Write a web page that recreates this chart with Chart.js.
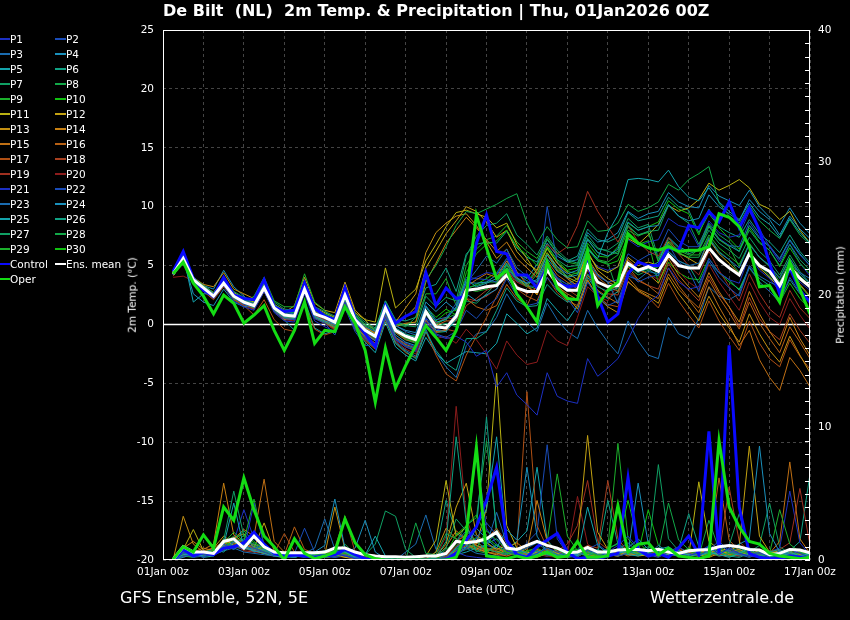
<!DOCTYPE html>
<html lang="en">
<head>
<meta charset="UTF-8" />
<title>De Bilt (NL) 2m Temp. &amp; Precipitation</title>
<script src="https://cdn.jsdelivr.net/npm/chart.js@4.4.0/dist/chart.umd.min.js"></script>
<style>
body { margin: 0; background: #000; color: #fff; font-family: "DejaVu Sans", sans-serif; }
#wrap { position: relative; width: 850px; height: 620px; overflow: hidden; }
#chart { position: absolute; left: 0; top: 0; }
.txt { position: absolute; white-space: pre; line-height: 1; }
#title { left: 163px; top: 3px; font-size: 16px; font-weight: bold; }
.rot { transform: translate(-50%, -50%) rotate(-90deg); font-size: 10.5px; }
.leg { position: absolute; font-size: 10.5px; line-height: 1; white-space: pre; }
.leg i { position: absolute; top: 50%; height: 2px; margin-top: -1px; }
.foot { font-size: 16px; top: 590px; }
</style>
</head>
<body>
<div id="wrap">
  <canvas id="chart" width="850" height="620"></canvas>
  <div id="title" class="txt">De Bilt  (NL)  2m Temp. &amp; Precipitation | Thu, 01Jan2026 00Z</div>
  <div class="txt rot" style="left:132px; top:295px;">2m Temp. (°C)</div>
  <div class="txt rot" style="left:840px; top:295px;">Precipitation (mm)</div>
  <div class="txt" style="left:486px; top:584px; font-size:10.5px; transform:translateX(-50%);">Date (UTC)</div>
  <div class="txt foot" style="left:120px;">GFS Ensemble, 52N, 5E</div>
  <div class="txt foot" style="left:650px;">Wetterzentrale.de</div>
  <div id="legend"></div>
</div>

<script>
// lead time step (hours) between points, first point at +6h
const STEP = 6;
const X_TICK_LABELS = ['01Jan 00z','03Jan 00z','05Jan 00z','07Jan 00z','09Jan 00z','11Jan 00z','13Jan 00z','15Jan 00z','17Jan 00z'];

// 2m temperature (°C), one value per 6 h
const TEMP_MEAN = [4.3,5.6,3.8,3.1, 2.4,3.5,2.4,1.9, 1.6,3.1,1.4,0.8, 0.7,3.0,0.9,0.6, 0.2,2.5,0.4,-0.5, -1.0,1.4,-0.5,-1.0, -1.3,1.1,-0.2,-0.3, 0.7,2.9,3.0,3.2, 3.3,4.2,3.1,2.8, 2.8,4.6,3.5,2.9, 2.9,5.0,3.6,3.2, 3.3,5.2,4.6,4.9, 4.5,5.9,5.0,4.8, 4.8,6.5,5.5,4.8, 4.2,6.0,5.0,4.5, 3.3,4.9,3.9,3.2];
const TEMP_CONTROL = [4.5,6.2,3.9,2.9, 2.4,4.0,2.5,2.2, 2.1,3.8,1.5,1.1, 1.2,3.5,1.4,0.7, 0.4,3.1,0.5,-0.8, -1.9,1.6,0.1,0.7, 1.1,4.4,1.6,3.1, 2.2,2.4,6.9,9.3, 6.2,6.0,4.2,4.2, 3.1,4.8,3.5,3.2, 3.3,5.2,2.4,0.2, 0.9,4.3,5.3,5.0, 5.0,6.5,6.3,8.4, 8.2,9.6,8.7,10.4, 8.2,9.9,8.0,5.2, 2.6,4.8,2.9,1.9];
const TEMP_OPER = [4.3,5.3,3.5,2.4, 0.9,2.5,1.8,0.1, 0.8,1.6,-0.5,-2.2, -0.5,1.9,-1.6,-0.5, -0.6,1.5,0.1,-2.2, -6.6,-2.0,-5.4,-3.5, -1.8,-0.1,-1.1,-2.2, -0.5,2.4,9.3,6.5, 3.9,4.6,2.6,1.5, 0.2,5.3,3.1,2.2, 2.1,6.2,1.6,2.9, 3.6,7.7,6.9,6.5, 6.3,6.6,6.2,6.3, 6.3,6.6,9.4,9.1, 8.3,6.6,3.2,3.3, 1.9,5.3,3.0,0.9];

// perturbed members P1..P30
const TEMP_PERT = [
  [4.2,5.8,3.6,2.9, 2.2,3.3,2.0,1.5, 1.2,2.8,1.0,0.3, 0.2,2.6,0.3,-0.2, -0.6,1.9,-0.4,-1.2, -1.8,0.6,-1.3,-1.9, -2.3,0.2,-0.9,-1.2, -1.0,-1.5,-2.7,-2.2, -5.3,-4.1,-6.0,-6.8, -7.7,-4.1,-6.1,-6.5, -6.7,-2.9,-4.4,-3.7, -2.9,-1.3,0.5,1.8, 2.5,4.8,3.6,3.0, 3.2,5.6,4.4,3.8, 3.5,5.9,4.6,3.9, 2.8,4.7,3.6,2.9],
  [4.4,5.5,3.7,3.0, 2.5,3.6,2.3,1.7, 1.5,3.0,1.1,0.5, 0.4,2.7,0.5,0.1, -0.9,1.4,-0.6,-1.8, -1.7,0.9,-1.2,-1.8, -2.0,0.5,-0.8,-1.1, -0.6,1.2,0.5,1.5, 2.2,3.9,2.4,1.6, 1.8,4.0,2.9,2.2, 1.0,3.6,2.3,1.6, 2.0,4.4,3.6,4.0, 4.2,6.8,5.3,4.6, 2.8,5.4,4.0,3.1, 2.4,4.9,3.6,2.8, 1.9,4.0,2.7,1.8],
  [4.5,5.7,3.9,3.2, 2.6,3.7,2.6,2.1, 1.8,3.3,1.6,1.0, 0.9,3.2,1.2,0.8, 0.4,2.8,0.6,-0.2, -0.6,1.8,-0.1,-0.6, -0.9,1.6,0.4,0.6, 1.4,3.5,4.6,5.8, 5.2,6.4,4.8,4.1, 3.5,5.2,3.9,3.1, 2.8,5.4,4.2,3.6, 1.8,4.1,3.8,4.5, 4.3,6.2,5.4,5.0, 5.2,7.3,6.1,5.5, 4.8,6.8,5.7,5.0, 3.9,5.6,4.3,3.5],
  [4.2,5.5,2.6,1.9, 1.6,3.0,1.9,1.5, 1.7,3.0,1.3,0.7, 0.6,2.9,0.7,0.3, 0.0,2.3,0.2,-0.8, -1.4,1.0,-0.9,-1.5, -1.8,0.9,-0.5,-0.6, 0.4,2.6,2.0,2.5, 3.0,4.8,3.9,3.5, 3.8,5.9,4.9,4.3, 4.6,7.2,6.1,5.8, 6.4,8.7,8.0,8.3, 8.4,10.2,9.2,8.8, 9.0,11.0,10.0,9.4, 8.8,10.6,9.6,8.9, 7.6,9.2,8.1,7.3],
  [4.4,5.9,1.9,2.6, 2.6,3.6,2.5,2.0, 1.5,3.2,1.5,0.9, 0.8,3.1,1.0,0.7, 0.3,2.6,0.6,-0.4, -0.9,1.6,-0.3,-0.8, -1.1,1.5,0.2,0.4, 1.5,3.8,3.2,3.5, 3.9,5.2,4.3,4.0, 3.6,5.6,4.5,4.0, 4.2,6.4,5.6,7.8, 9.3,12.3,12.4,12.3, 12.1,13.1,11.7,10.8, 10.5,11.6,10.4,9.6, 8.9,10.3,9.1,8.5, 7.4,9.0,7.8,6.9],
  [4.3,5.6,3.8,3.0, 2.3,3.4,2.2,1.8, 1.4,3.0,1.2,0.6, 0.5,2.9,0.6,0.2, -0.2,2.1,-0.1,-1.2, -2.0,0.5,-1.6,-2.3, -2.9,-0.6,-2.2,-3.3, -3.9,-1.2,-1.2,-0.6, 1.2,3.1,2.0,1.5, 1.6,3.4,2.5,1.9, 2.2,4.3,3.2,2.8, 3.1,5.0,4.5,4.7, 4.1,6.2,5.4,5.0, 3.5,5.3,4.4,3.8, 2.9,4.8,3.9,3.3, 2.1,3.8,2.6,1.9],
  [4.5,5.8,4.0,3.3, 2.7,3.9,2.8,2.3, 2.0,3.6,1.9,1.3, 1.2,3.6,1.5,1.1, 0.7,3.0,0.9,0.2, -0.3,2.0,0.3,-0.1, -0.2,2.4,1.5,2.3, 2.0,5.8,7.5,8.4, 8.6,9.4,7.6,6.8, 5.9,7.5,6.3,5.5, 5.2,7.6,6.5,6.2, 6.0,8.4,7.6,7.9, 8.0,10.1,9.2,8.6, 6.8,8.6,7.6,7.0, 6.2,8.0,6.9,6.3, 5.0,6.8,5.5,4.6],
  [4.2,5.7,3.9,3.1, 2.4,3.7,2.5,2.0, 1.7,3.4,1.7,1.1, 1.0,3.4,1.3,0.9, 0.5,2.9,0.8,0.0, -0.5,1.9,0.1,-0.2, 0.6,3.8,5.0,6.6, 8.4,9.6,9.4,9.8, 10.2,10.7,11.1,8.6, 6.9,8.3,7.2,6.5, 6.6,8.8,7.9,8.0, 8.6,10.2,9.6,9.9, 10.4,11.9,11.4,12.3, 12.8,13.4,10.3,9.2, 8.6,10.1,8.8,8.0, 7.3,8.9,7.6,6.8],
  [4.3,5.4,3.7,3.0, 2.5,3.5,2.3,1.8, 2.4,4.0,2.0,1.5, 1.5,4.3,1.9,1.2, 0.1,2.4,0.3,-0.6, -1.2,1.2,-0.6,-1.2, -1.5,1.0,0.0,0.5, 0.9,3.0,2.8,3.0, 3.5,5.0,3.8,3.2, 4.3,6.0,4.7,4.1, 4.4,6.6,5.5,5.3, 5.9,8.0,7.5,7.9, 5.3,6.9,6.1,5.7, 6.4,8.4,7.2,6.6, 4.9,6.9,5.7,5.0, 3.6,5.4,4.1,3.3],
  [4.4,5.6,3.8,3.2, 2.4,3.5,2.5,2.1, 1.8,3.2,1.5,0.8, 0.7,3.1,1.0,0.6, 0.1,2.5,0.4,-0.5, -1.1,1.4,-0.5,-1.1, -1.4,1.2,0.3,1.0, 1.2,4.4,6.0,6.8, 7.1,8.0,6.6,5.9, 5.0,6.6,5.4,4.6, 4.8,6.9,5.8,5.7, 6.6,8.6,8.0,8.3, 8.7,10.5,9.8,9.4, 7.6,9.8,8.2,7.3, 6.4,8.2,7.0,6.3, 4.9,6.5,5.2,4.3],
  [4.5,6.0,4.0,3.3, 2.7,3.8,2.7,2.2, 1.9,3.5,1.7,1.2, 1.1,3.5,1.4,1.0, 0.6,3.2,1.0,0.4, 0.2,4.8,1.4,2.2, 3.0,5.4,6.8,8.3, 9.5,9.7,9.4,9.1, 8.2,8.6,6.8,5.6, 4.3,6.1,4.9,4.0, 3.6,6.0,4.8,4.4, 4.9,7.3,6.8,7.6, 8.5,10.1,9.6,9.9, 10.6,12.0,11.4,11.8, 12.3,11.6,10.2,9.8, 8.9,9.6,8.0,6.9],
  [4.3,5.7,3.9,3.2, 2.6,3.7,2.6,2.1, 1.8,3.4,1.6,1.0, 1.6,4.0,1.8,1.2, 1.0,3.6,1.2,0.4, -0.6,1.7,0.0,0.6, 1.5,4.8,6.2,7.7, 8.8,10.0,9.6,8.7, 7.4,8.0,6.2,5.2, 4.6,6.5,5.2,4.4, 3.8,6.2,4.6,3.9, 3.4,5.7,5.0,5.3, 5.0,7.0,6.1,5.6, 5.1,7.2,6.0,5.2, 4.3,6.0,4.8,4.0, 3.1,4.8,3.4,2.4],
  [4.6,5.9,4.0,3.4, 3.2,4.4,3.0,2.6, 2.2,3.6,1.4,0.4, 0.8,3.2,1.1,0.7, 0.3,2.7,0.6,-0.2, -0.8,1.6,0.2,1.4, 2.6,6.1,7.8,8.6, 9.2,9.4,8.4,7.0, 5.6,6.4,4.5,3.4, 2.5,4.6,3.3,2.4, 1.3,3.8,2.3,1.5, 1.0,3.6,2.9,2.4, 1.8,4.0,2.6,1.5, 0.3,2.4,0.9,-0.3, -1.5,0.9,-0.8,-2.2, -3.2,-1.0,-2.6,-4.1],
  [4.4,5.8,3.9,3.2, 2.6,3.6,2.5,2.0, 1.7,3.2,1.5,0.9, 0.8,3.1,1.0,0.6, 0.2,2.6,0.5,-0.3, -0.7,1.5,-0.2,0.1, 0.2,3.6,5.2,6.9, 8.0,9.1,8.2,7.2, 6.2,7.0,5.6,4.8, 4.0,5.9,4.6,3.9, 3.3,5.6,4.3,3.6, 3.2,5.5,4.7,4.3, 3.5,5.6,4.2,3.2, 2.3,4.4,2.8,1.5, 0.2,2.8,0.9,-0.6, -1.8,0.6,-1.2,-2.6],
  [4.3,5.5,3.7,2.9, 2.2,3.3,2.2,1.7, 1.4,2.9,1.1,0.5, 0.4,2.8,0.6,0.2, -0.3,2.1,-0.1,-1.0, -1.6,0.8,-1.1,-1.7, -2.0,0.4,-0.6,-0.5, 0.8,3.2,3.8,4.3, 4.0,5.4,4.0,3.2, 2.6,4.5,3.2,2.6, 2.1,4.2,2.9,2.3, 1.8,4.0,3.0,2.6, 2.2,4.3,3.0,2.1, 1.0,3.2,1.5,0.0, -1.8,-0.5,-3.0,-4.5, -5.6,-2.8,-3.9,-5.3],
  [4.4,5.6,3.8,3.1, 2.4,3.5,2.3,1.8, 1.5,3.0,1.3,0.6, 0.5,2.8,0.7,0.3, -0.2,2.3,0.1,-0.8, -1.4,1.1,-0.7,-1.3, -1.5,0.8,-0.1,0.3, 0.3,2.2,1.5,1.2, 1.6,3.4,2.2,1.6, 3.4,5.4,4.2,3.6, 3.0,5.2,4.0,3.3, 2.8,4.9,3.8,3.3, 2.6,4.8,3.3,2.2, 1.4,3.8,2.3,1.0, -0.4,1.9,0.1,-1.2, -2.4,-0.2,-1.5,-2.9],
  [4.1,5.4,3.6,2.8, 2.1,3.2,2.1,1.6, 0.8,2.1,0.4,-0.4, -0.6,1.8,-0.4,-0.9, -0.6,1.9,-0.4,-1.4, -2.1,0.4,-1.6,-2.4, -2.8,-0.6,-2.6,-4.2, -4.8,-2.6,-1.0,0.6, 2.4,4.1,3.0,2.4, 2.0,4.0,2.7,2.0, 1.6,3.7,2.4,1.7, 1.5,3.7,2.8,2.3, 1.4,3.5,2.0,0.8, -0.3,2.0,0.3,-1.0, -2.2,0.3,-1.6,-2.9, -3.6,-1.3,-2.7,-3.8],
  [4.2,5.5,3.7,3.0, 2.3,3.4,2.3,1.8, 1.3,2.9,1.2,0.5, 0.4,2.8,0.6,0.2, -0.4,2.0,-0.2,-1.1, -1.9,0.6,-1.3,-1.9, -2.2,0.3,-0.7,-0.4, -0.6,1.6,2.2,2.9, 3.3,4.8,3.3,2.6, 3.2,5.0,3.8,3.0, 2.4,4.6,3.3,2.6, 2.5,4.6,3.7,3.3, 3.0,5.2,3.8,2.9, 2.0,4.1,2.6,1.5, -0.2,2.3,0.5,-0.6, -1.3,0.9,-0.5,-1.6],
  [4.3,5.6,3.7,2.9, 2.3,3.4,2.3,1.9, 1.5,3.0,1.3,0.7, 0.6,2.9,0.8,0.4, -0.1,2.4,0.2,-0.7, -1.3,1.2,-0.6,-1.2, -1.4,1.1,0.1,0.6, 0.4,2.2,2.0,2.4, 3.0,4.6,3.6,3.2, 4.6,6.8,6.0,6.6, 8.4,11.3,9.6,8.3, 7.0,8.4,7.0,6.2, 5.8,7.4,6.0,5.0, 4.2,6.2,4.6,3.2, 2.0,4.3,2.6,1.3, 0.6,2.9,1.4,0.5],
  [4.0,4.1,3.7,2.8, 2.2,3.3,2.1,1.6, 1.3,2.8,1.1,0.4, 0.3,2.7,0.5,0.1, -0.5,1.9,-0.3,-1.3, -2.0,0.4,-1.4,-2.1, -2.5,-0.1,-1.2,-1.0, -1.6,-0.4,-1.3,-2.5, -3.8,-1.4,-2.6,-3.4, -3.2,-0.5,-1.4,-1.8, 0.6,3.2,2.4,2.0, 3.4,5.5,4.6,4.3, 3.8,5.9,4.5,3.6, 3.0,5.1,3.6,2.4, 1.2,3.6,1.9,0.6, 0.0,2.2,0.8,-0.4],
  [4.3,5.7,3.8,3.1, 2.4,3.5,2.4,1.9, 1.5,3.1,1.3,0.6, 0.5,2.9,0.7,0.3, -0.2,2.3,0.0,-1.0, -1.6,0.9,-1.1,-1.6, -1.9,0.6,-0.5,-0.2, 1.0,3.6,4.0,4.4, 4.3,5.6,4.3,3.7, 3.3,5.1,4.0,3.4, 3.5,5.9,4.9,4.6, 4.9,7.2,6.6,7.0, 7.2,9.0,8.4,8.2, 6.6,8.8,7.8,7.4, 7.6,9.6,8.1,6.6, 5.3,6.8,5.2,4.1],
  [4.4,5.6,3.8,3.1, 2.5,3.6,2.5,2.0, 1.6,3.1,1.4,0.8, 0.7,3.0,0.9,0.5, 0.0,2.5,0.3,-0.7, -1.2,1.3,-0.6,-1.2, -1.3,1.2,0.1,0.5, 1.8,4.0,3.9,3.8, 3.6,4.8,3.7,3.3, 3.2,10.0,5.3,3.9, 3.0,5.4,4.1,3.6, 3.8,6.0,5.4,5.9, 6.2,8.1,7.1,6.6, 6.6,8.5,7.3,6.7, 6.6,8.7,7.4,6.7, 5.5,7.1,5.9,5.0],
  [4.2,5.5,3.7,3.0, 2.3,3.4,2.3,1.8, 1.4,2.9,1.2,0.5, 0.4,2.8,0.6,0.1, -0.4,2.0,-0.3,-1.3, -2.0,0.5,-1.5,-2.2, -2.7,-0.4,-2.4,-3.6, -4.5,-1.8,-0.8,-0.6, 0.6,2.6,1.2,0.2, -0.6,1.8,0.4,-0.6, -1.2,1.2,-0.3,-1.5, -2.5,0.3,-1.4,-2.6, -2.9,0.6,-0.8,-1.2, 0.5,3.2,2.4,2.1, 2.6,5.0,4.1,3.6, 3.2,5.2,4.4,3.9],
  [4.5,5.8,4.0,3.3, 3.0,4.6,3.2,2.4, 1.7,3.3,1.5,0.9, 0.8,3.2,1.1,0.7, 0.3,2.7,0.6,-0.3, -0.8,1.7,-0.1,-0.5, -0.7,1.9,1.1,1.9, 1.2,3.6,3.5,3.6, 4.2,5.4,4.4,3.9, 5.1,6.9,5.8,5.3, 5.5,7.8,7.0,7.2, 7.8,9.6,9.0,9.4, 9.6,11.2,10.4,10.0, 9.9,11.8,10.9,10.5, 10.1,11.4,10.0,9.1, 8.4,9.9,8.6,7.7],
  [4.3,5.3,3.6,2.9, 2.2,3.3,2.1,1.6, 1.3,2.8,1.1,0.4, -0.5,2.0,-0.3,-0.8, -0.5,1.8,-0.4,-1.5, -2.4,0.2,-1.9,-2.6, -3.1,-1.1,-2.4,-3.3, -2.8,-2.3,-2.4,-2.5, -1.6,0.9,0.1,-0.8, -0.3,2.2,1.2,0.3, 1.6,4.0,2.8,2.2, 2.8,5.1,4.4,4.8, 5.3,7.4,6.6,6.2, 6.4,8.3,7.2,6.7, 6.2,8.4,7.3,6.6, 5.6,7.2,6.0,5.0],
  [4.4,5.7,3.9,3.2, 2.6,3.7,2.6,2.1, 1.8,3.4,1.7,1.1, 1.0,3.3,1.2,0.8, 0.5,2.9,0.8,0.0, -0.4,2.0,0.4,0.3, 0.6,3.1,3.4,4.8, 2.8,6.0,6.8,7.0, 6.9,7.9,6.5,5.7, 5.3,7.2,6.0,5.4, 5.8,8.1,7.2,7.0, 7.4,9.5,8.8,9.0, 9.2,10.8,10.0,9.7, 7.8,9.4,8.3,7.8, 7.4,8.9,7.7,7.0, 6.1,7.6,6.2,5.2],
  [4.3,5.6,3.8,3.1, 2.5,3.6,2.4,1.9, 1.6,3.1,1.4,0.7, 0.6,3.0,0.8,0.4, -0.1,2.4,0.2,-0.8, -1.3,1.1,-0.7,-1.3, -1.6,0.8,-0.2,0.1, -0.2,2.0,1.8,2.6, 3.5,5.1,4.0,3.4, 4.7,6.7,5.5,4.9, 5.0,7.3,6.4,6.3, 6.9,9.0,8.2,8.5, 5.6,7.3,6.5,6.0, 6.3,8.0,6.9,6.3, 5.6,7.4,6.2,5.4, 4.2,5.9,4.5,3.5],
  [4.2,5.5,3.8,3.0, 2.4,3.5,2.3,1.8, 1.5,3.0,1.2,0.6, 0.5,2.9,0.7,0.3, -0.3,2.2,-0.1,-1.1, -1.8,0.7,-1.2,-1.8, -2.1,0.4,-0.7,-0.6, 0.6,3.1,3.3,3.6, 3.6,5.1,3.9,3.3, 3.0,5.0,3.9,3.4, 3.9,6.4,5.4,5.2, 2.7,4.9,4.2,4.6, 4.9,6.8,6.0,5.7, 5.7,7.4,6.2,5.5, 4.4,6.2,5.0,4.1, 3.0,4.7,3.3,2.3],
  [4.5,5.9,4.0,3.3, 2.7,3.8,2.7,2.2, 1.9,3.5,1.7,1.1, 1.0,3.4,1.2,0.8, 0.4,2.8,0.7,-0.1, -0.6,1.8,0.0,0.0, 0.2,2.6,2.6,3.9, 1.6,5.0,6.4,7.2, 7.5,8.4,7.0,6.2, 5.6,7.3,6.1,5.3, 5.1,7.2,6.1,5.8, 6.2,8.3,7.6,7.8, 5.4,7.1,6.3,5.9, 5.9,7.6,6.5,5.8, 5.1,6.8,5.7,4.9, 4.0,5.6,4.3,3.4],
  [4.4,5.7,3.9,3.1, 2.5,3.6,2.4,1.9, 1.6,3.2,1.4,0.8, 0.7,3.1,1.0,0.6, 0.1,2.6,0.4,-0.6, -1.1,1.5,-0.4,-0.9, -1.0,1.5,0.6,1.3, 0.8,3.0,3.4,3.9, 4.4,5.6,4.4,3.7, 4.6,6.4,5.2,4.5, 4.3,6.5,5.4,5.1, 5.4,7.5,6.8,7.1, 3.5,5.3,4.4,3.9, 3.8,5.6,4.4,3.6, 3.0,4.8,3.6,2.8, 1.9,3.5,2.2,1.3]
];

// 6-hourly precipitation (mm)
const PREC_MEAN = [0.05,1.0,0.6,0.6, 0.5,1.4,1.6,0.9, 1.8,1.0,0.6,0.55, 0.55,0.55,0.55,0.6, 0.9,0.9,0.6,0.4, 0.3,0.25,0.25,0.2, 0.25,0.3,0.3,0.5, 1.4,1.3,1.4,1.6, 2.1,0.9,0.8,1.1, 1.4,1.1,0.9,0.55, 0.6,0.95,0.6,0.6, 0.75,0.8,0.8,0.7, 0.8,0.6,0.5,0.7, 0.75,0.8,1.0,1.1, 1.0,0.8,0.75,0.4, 0.5,0.8,0.75,0.55];
const PREC_CONTROL = [0,0.8,0.3,0.6, 0.4,0.9,1.0,1.3, 2.1,1.2,0.5,0.3, 0.4,0.3,0.2,0.3, 0.4,0.8,0.4,0.1, 0,0,0,0, 0,0,0,0, 0.5,1.5,2.5,4.5, 7.0,1.5,0.4,0.2, 1.0,1.5,2.0,0.6, 0.1,0.2,0.1,0.3, 0.5,6.2,0.8,0.3, 0.5,0.2,0.9,1.8, 0.4,9.7,0.5,16.2, 4.0,0.5,0.2,0.1, 0.1,0.3,0.2,0.1];
const PREC_OPER = [0.05,1.0,0.6,1.9, 0.9,4.0,3.0,6.2, 3.8,1.8,1.0,0, 1.6,0.5,0.1,0.3, 0.6,3.1,1.3,0.4, 0.1,0,0,0, 0,0,0,0, 0.2,2.0,8.5,0.3, 0.2,0.1,0.3,0.1, 0.3,0.6,0.2,0.3, 1.4,0.2,0.2,0.3, 4.1,0.6,1.2,1.3, 0.4,0.9,0.3,0.2, 0.1,0.3,9.0,4.0, 2.5,1.4,1.2,0.5, 0.3,0.2,0.1,0.2];

const PREC_PERT = [
  [0,0.5,0.7,0.4, 0.3,0.9,1.1,0.8, 4.3,1.0,0.5,0.2, 0.3,0.6,0.2,0.4, 0.5,0.3,0.1,0, 0,0,0,0, 0,0,0,0.2, 0.6,0.3,0.2,0.1, 0.1,0,0,0, 0,0.1,0,0, 0,0.1,0.2,0.6, 1.1,1.8,0.9,0.5, 0.4,0.7,0.5,0.3, 0.6,1.1,0.4,0.9, 0.5,0.3,0.2,0.1, 0.4,0.8,0.5,0.2],
  [0,0.3,0.4,0.2, 0.6,1.2,0.8,1.5, 0.9,0.6,0.3,0.4, 0.5,2.4,0.6,0.3, 0.2,0.4,0.1,0, 0,0,0,0, 0,0,0.1,0, 0.4,0.9,1.6,2.8, 1.9,0.7,0.4,0.2, 0.5,0.9,0.6,0.3, 0.2,0.8,1.2,0.6, 0.3,0.5,0.9,0.4, 0.2,0.6,1.0,0.5, 0.3,0.8,1.4,0.7, 0.5,0.3,0.6,0.2, 0.1,0.4,0.3,0.2],
  [0,0.6,0.3,0.5, 0.4,0.7,1.4,1.0, 0.8,1.2,0.6,0.3, 0.2,0.5,0.9,3.1, 0.8,0.3,0.2,0.1, 0,0,0,0, 0,0,0,0.4, 1.4,2.2,1.8,1.1, 3.6,1.2,0.6,0.9, 1.3,0.7,0.4,0.2, 0.6,0.9,0.4,0.3, 0.8,1.3,0.6,0.4, 1.1,0.6,0.3,0.7, 0.9,0.5,1.2,0.6, 0.4,0.2,0.5,0.3, 0.7,0.4,0.2,0.3],
  [0,0.2,0.5,0.3, 0.5,1.0,0.9,1.2, 0.6,0.8,0.4,0.2, 0.3,0.4,0.6,1.1, 4.6,0.9,0.3,0.1, 0,0,0,0, 0,0,0,0, 0.3,1.0,2.4,1.6, 0.9,2.3,1.5,7.0, 1.8,0.6,0.3,0.5, 0.4,1.0,0.7,0.3, 0.5,0.9,1.6,0.8, 0.5,0.4,0.7,0.3, 0.6,1.0,0.5,0.8, 1.2,1.6,8.6,2.0, 0.6,0.3,0.8,0.4],
  [0,0.4,0.5,0.2, 0.3,1.1,4.3,0.9, 0.7,0.5,0.3,0.2, 0.4,0.3,0.5,0.7, 0.9,0.6,0.2,0, 0,0,0,0, 0,0,0,0.1, 0.9,1.5,2.6,3.8, 9.3,1.4,0.8,0.5, 0.4,1.1,0.9,0.6, 0.3,4.0,1.1,0.5, 0.7,0.4,0.3,0.6, 0.8,1.0,0.5,0.4, 0.3,0.6,0.4,0.2, 0.5,0.9,0.7,0.3, 0.4,0.6,0.3,0.5],
  [0,0.5,0.3,0.6, 0.8,0.6,1.3,1.6, 1.2,0.7,0.5,0.3, 0.2,0.4,0.3,0.2, 0.3,0.7,0.2,0, 0,0,0,0, 0,0,0.2,1.4, 9.3,2.8,0.6,1.2, 2.1,0.9,0.5,0.3, 0.7,0.4,0.3,0.5, 0.6,0.3,0.8,0.4, 0.5,0.7,0.4,0.6, 0.9,0.5,0.8,3.5, 1.0,0.4,0.6,0.3, 0.2,0.5,0.3,0.6, 0.8,0.4,0.2,0.3],
  [0,0.7,0.5,0.4, 0.6,1.5,5.2,1.8, 1.0,0.6,0.4,0.2, 0.3,0.5,0.4,0.3, 0.4,0.6,0.3,0, 0,0.1,0,0, 0,0,0.3,0.9, 3.1,2.2,1.4,0.8, 0.6,0.4,0.7,0.3, 0.5,0.9,0.4,0.2, 0.3,0.6,0.5,0.8, 1.3,0.6,0.4,0.5, 7.2,1.6,0.7,0.4, 0.5,0.3,0.8,1.1, 3.5,0.8,0.4,0.3, 0.2,0.5,0.3,0.4],
  [0,0.3,0.2,0.5, 0.4,0.9,1.5,2.2, 1.4,0.8,0.6,0.4, 0.3,0.6,0.5,0.4, 0.5,1.2,0.4,0.1, 0,0,0,0, 2.8,0.5,0.4,2.0, 1.6,1.1,0.7,0.5, 1.2,0.5,0.4,0.2, 0.3,0.6,0.8,0.4, 0.5,0.3,0.6,0.4, 0.9,0.5,0.7,1.0, 0.6,4.3,1.5,0.8, 0.4,0.6,0.3,0.5, 0.7,0.4,0.3,0.2, 0.5,0.3,0.6,0.4],
  [0,0.4,0.6,0.3, 0.5,1.3,2.1,1.4, 4.6,1.1,0.5,0.3, 0.2,0.4,0.3,0.6, 0.7,0.9,0.3,0, 0,0,0,0, 0,0,0,0.2, 0.8,1.3,0.9,2.2, 1.5,0.8,0.5,0.6, 0.9,1.4,6.5,1.8, 0.7,0.5,0.3,0.6, 0.4,0.8,0.5,0.3, 0.6,0.9,0.4,0.7, 0.3,0.6,0.9,0.5, 0.4,0.7,0.3,0.5, 3.8,1.2,0.6,0.3],
  [0,0.6,0.4,0.5, 0.7,1.4,1.0,1.9, 1.3,0.9,0.4,0.3, 0.5,0.3,0.4,0.5, 0.3,0.5,0.2,0.1, 0,0,0,0, 0,0,0.1,0.5, 1.9,2.6,3.4,1.7, 1.1,0.6,0.4,0.7, 0.9,0.5,0.3,0.6, 0.8,0.5,0.4,0.9, 1.2,4.5,1.4,0.6, 0.4,0.7,0.5,0.9, 0.6,0.4,0.7,0.3, 0.5,0.9,0.6,0.4, 0.3,0.2,0.5,0.4],
  [0,0.8,2.3,0.7, 0.5,1.6,1.1,0.9, 0.8,1.0,0.6,0.4, 0.3,0.5,0.4,0.3, 0.4,0.2,0.1,0, 0,0,0,0, 0,0.3,1.5,6.0, 1.8,2.5,1.2,3.9, 14.1,2.6,0.9,0.6, 0.4,0.7,0.5,0.3, 0.5,0.8,0.6,0.4, 0.3,0.6,0.5,0.8, 0.7,0.4,0.6,0.3, 5.9,1.4,0.8,0.5, 0.6,0.4,0.3,0.5, 0.7,0.4,0.2,0.3],
  [0,0.5,0.7,0.4, 0.6,1.2,1.6,2.0, 0.9,2.8,0.7,0.4, 0.3,0.4,0.2,0.3, 0.5,0.3,0.2,0, 0,0,0,0, 0,0,0.3,1.2, 4.0,5.8,1.9,1.3, 0.8,1.1,0.5,0.3, 0.6,0.4,0.8,0.5, 1.2,9.4,2.1,0.8, 0.5,0.7,0.4,0.3, 0.6,0.8,0.5,0.4, 0.3,0.5,0.9,0.7, 1.1,8.6,1.8,0.6, 0.4,0.3,0.5,0.2],
  [0,3.3,1.2,0.6, 0.9,1.8,1.3,1.0, 0.7,0.5,0.4,0.3, 0.6,0.5,0.3,0.4, 4.0,0.8,0.3,0.1, 0,0,0,0, 0,0.1,0.6,2.4, 1.6,1.2,0.9,0.6, 0.4,0.8,0.5,0.3, 0.2,0.5,0.4,0.3, 0.6,0.4,0.3,0.5, 0.8,0.5,0.3,0.4, 0.6,0.9,0.5,0.3, 0.4,0.2,0.5,0.6, 0.8,0.4,0.3,0.6, 0.5,0.3,0.4,0.2],
  [0,0.9,1.4,0.8, 1.2,5.8,1.9,1.3, 1.0,0.7,0.5,0.3, 0.4,0.3,0.2,0.5, 0.6,0.4,0.2,0, 0,0,0,0, 0,0,0.2,1.0, 2.2,1.6,1.1,0.8, 0.6,0.9,1.3,0.7, 4.5,1.4,0.6,0.4, 0.3,0.6,0.4,0.8, 0.6,0.4,0.7,0.5, 0.3,0.5,0.8,0.4, 0.6,0.7,0.4,0.3, 0.5,0.3,0.6,0.4, 0.3,0.5,0.4,0.2],
  [0,0.4,0.6,0.9, 0.7,1.1,1.6,2.3, 1.8,6.1,1.4,0.6, 0.4,0.5,0.3,0.2, 0.3,0.6,0.2,0, 0,0,0,0, 0,0,0,0.2, 0.7,1.1,0.8,0.6, 0.5,0.3,0.6,0.4, 0.8,0.5,0.3,0.2, 0.4,0.6,0.3,0.5, 0.7,0.4,0.6,0.3, 0.5,0.8,0.4,0.6, 0.3,0.5,0.7,0.4, 0.6,0.3,0.8,0.5, 1.4,7.4,1.6,0.5],
  [0,0.6,0.4,0.7, 0.9,1.4,1.1,0.8, 1.2,0.9,0.6,0.4, 2.5,0.8,0.5,0.3, 0.4,0.6,0.2,0.1, 0,0,0,0, 0,0,0.2,0.6, 1.5,1.8,1.1,0.7, 0.9,0.6,0.4,0.5, 0.3,0.6,0.4,0.3, 0.5,0.4,0.7,0.5, 0.6,0.3,0.5,0.4, 0.7,0.5,0.9,0.6, 0.4,0.8,6.2,1.5, 0.7,0.4,0.3,0.6, 0.4,0.6,0.3,0.5],
  [0,0.3,0.5,0.4, 0.6,1.0,1.3,1.1, 0.7,0.9,0.5,2.0, 0.6,0.3,0.4,0.2, 0.3,0.5,0.2,0, 0,0,0,0, 0,0,0,0.1, 0.5,0.9,1.2,1.6, 2.4,1.3,0.8,12.7, 2.6,0.9,0.5,0.4, 0.6,0.3,0.5,0.4, 0.5,0.7,0.4,0.3, 0.6,0.4,0.5,0.3, 0.5,0.3,0.6,0.4, 0.3,0.5,0.4,0.7, 0.5,0.3,0.6,0.4],
  [0,0.5,0.4,0.6, 0.8,1.3,1.7,1.2, 0.9,0.6,0.4,0.3, 0.5,0.4,0.3,0.6, 0.9,3.3,0.6,0.2, 0,0,0,0, 0,0,0.1,0.3, 1.0,1.6,1.3,0.9, 0.7,1.5,0.6,0.4, 0.5,0.8,0.6,0.4, 0.7,1.1,0.9,6.0, 1.6,0.6,0.4,0.5, 0.4,0.6,0.5,0.3, 0.8,0.5,0.4,5.5, 1.4,0.6,0.4,0.3, 0.5,0.3,0.7,0.4],
  [0,0.4,0.3,0.5, 0.5,0.9,1.2,0.7, 0.6,0.8,0.5,0.3, 0.4,0.3,0.6,0.5, 0.3,0.4,0.2,0, 0,0,0,0, 0,0,0,0.2, 1.3,2.0,1.1,0.8, 0.6,0.4,0.9,0.5, 0.8,0.5,0.7,1.2, 2.6,6.0,1.4,0.8, 0.5,0.7,0.4,0.3, 0.6,0.5,0.8,0.4, 0.3,0.6,0.4,0.5, 0.7,0.4,0.3,0.6, 0.8,1.3,5.4,1.1],
  [0,0.2,0.4,0.3, 0.5,0.8,1.0,0.9, 0.6,0.5,0.3,0.2, 0.4,0.3,0.2,0.4, 0.3,0.2,0.1,0, 0,0,0,0, 0,0,0.2,1.8, 11.6,3.2,1.0,0.6, 0.4,0.3,0.5,0.6, 0.4,0.3,0.2,0.5, 4.8,1.2,0.6,0.4, 0.3,0.5,0.4,0.6, 0.5,0.3,0.6,0.4, 0.7,0.5,0.3,0.4, 0.6,0.4,0.5,0.3, 0.4,0.6,0.3,0.5],
  [0,0.5,0.4,0.6, 0.7,1.0,1.4,3.8, 1.6,0.9,0.5,0.3, 0.4,0.5,0.3,0.2, 0.3,0.4,0.1,0, 0,0,0,0, 0,0,0,0.3, 0.9,1.8,8.0,2.4, 1.2,0.7,0.5,0.3, 0.6,0.4,0.3,0.5, 0.7,0.4,0.6,0.3, 0.5,0.8,0.6,0.4, 0.3,0.5,0.7,0.5, 0.4,0.6,0.8,0.5, 0.3,0.7,0.4,0.6, 0.9,5.2,1.3,0.4],
  [0,0.3,0.6,0.4, 0.5,0.9,1.2,1.0, 0.8,0.6,0.4,0.2, 0.3,0.4,0.5,0.3, 0.6,0.4,0.2,0, 0,0,0,0, 0,0,0,0.2, 0.8,1.2,1.6,1.1, 0.9,0.6,0.4,1.3, 2.1,8.7,1.6,0.5, 0.4,0.7,0.5,0.3, 0.6,0.4,0.5,0.7, 0.5,0.8,0.4,0.3, 0.6,0.5,0.3,0.4, 0.7,0.5,0.4,0.3, 0.5,0.3,0.4,0.6],
  [0,0.4,0.2,0.3, 0.4,0.7,0.9,0.6, 0.5,0.4,0.3,0.2, 0.3,0.2,0.4,0.3, 0.2,0.3,0.1,0, 0,0,0,0.6, 1.2,3.4,0.8,0.4, 0.6,0.9,0.5,0.4, 0.3,0.5,0.4,0.2, 0.4,0.3,0.5,0.3, 0.5,0.4,0.3,0.6, 0.4,0.7,0.5,0.3, 0.6,0.4,0.3,0.5, 0.8,0.6,0.4,0.3, 0.5,0.4,0.6,0.3, 0.4,0.5,0.3,0.2],
  [0,0.6,0.5,0.3, 0.4,1.1,0.8,1.3, 1.0,0.7,0.5,0.3, 0.2,0.4,0.6,0.5, 0.7,0.5,0.9,3.0, 0.6,0.1,0,0, 0,0,0,0.1, 0.7,1.0,0.8,1.2, 1.6,1.0,0.6,0.4, 0.7,0.5,0.4,0.6, 0.5,0.8,0.6,0.4, 0.7,0.5,5.8,1.2, 0.6,0.4,0.7,0.5, 0.4,0.8,0.5,0.6, 0.7,0.5,0.4,0.3, 0.6,0.4,0.5,0.3],
  [0,0.5,0.3,0.4, 0.6,0.8,1.1,0.9, 0.7,0.5,0.6,0.4, 0.3,0.4,0.3,0.2, 0.4,0.3,0.6,0.4, 1.8,0.3,0,0, 0,0,0,0, 0.4,0.6,0.9,0.7, 1.1,0.8,1.4,2.2, 7.0,1.5,0.6,0.4, 0.5,0.7,0.4,0.3, 0.6,0.4,0.8,0.5, 0.4,0.6,0.5,0.3, 0.5,0.7,0.4,0.6, 0.8,0.5,0.3,0.4, 0.6,0.4,0.3,0.5],
  [0,0.4,0.6,0.5, 0.3,0.9,1.6,1.1, 0.9,0.6,0.4,0.3, 0.4,0.3,0.5,0.4, 0.5,0.7,0.3,0.1, 0,0,0,0, 0,0,0.6,4.5, 2.0,1.6,2.4,10.8, 1.8,1.1,0.7,0.5, 0.6,0.4,0.7,0.5, 0.4,0.6,0.5,4.5, 1.2,0.6,0.4,0.7, 0.5,0.8,0.6,0.4, 0.7,0.5,0.4,0.6, 0.3,0.6,0.5,0.4, 0.5,0.7,1.4,6.5],
  [0,0.3,0.5,0.4, 0.6,1.2,1.0,0.8, 0.9,0.7,0.5,0.3, 0.4,0.6,0.3,0.2, 0.3,0.5,0.2,0.4, 1.2,3.7,3.3,0.8, 0.2,0,0,0, 0.5,0.8,1.1,0.9, 0.6,0.5,0.4,0.3, 0.5,0.7,0.4,0.6, 0.8,0.5,0.6,0.4, 0.3,0.5,0.7,0.6, 0.4,0.6,0.3,0.5, 0.6,0.4,0.5,0.7, 0.9,0.6,1.1,4.3, 1.0,0.5,0.3,0.4],
  [0,0.6,0.4,0.3, 0.5,1.0,1.3,1.5, 1.1,0.7,0.4,0.2, 0.3,0.5,0.4,0.3, 0.4,0.3,0.1,0, 0,0,0,0, 0,0,0.1,0.8, 1.4,2.6,3.2,9.0, 2.4,0.9,0.6,0.4, 0.5,0.3,0.6,0.4, 0.6,0.5,0.3,0.7, 0.5,0.4,0.6,0.3, 0.7,0.5,0.4,0.6, 0.3,3.0,0.8,0.5, 0.4,0.6,0.3,0.5, 0.3,0.4,0.6,0.3],
  [0,0.5,0.7,0.4, 0.6,1.3,1.8,1.2, 0.8,0.6,0.4,0.3, 0.5,0.4,0.3,0.5, 0.6,0.4,0.2,0, 0,0,0,0, 0,0,0,0.4, 1.1,1.5,1.0,0.7, 0.9,0.6,0.5,0.4, 0.6,0.8,0.5,0.3, 0.5,0.7,0.4,0.9, 8.8,1.6,0.7,0.5, 0.4,0.6,0.5,0.8, 0.5,0.3,0.6,0.4, 0.7,0.5,0.4,0.3, 0.5,0.6,0.4,0.3],
  [0,0.4,0.3,0.6, 0.5,1.1,1.4,1.0, 0.7,0.5,0.3,0.2, 0.4,0.3,0.5,0.4, 0.3,0.6,0.2,0, 0,0,0,0, 0,0,0,0.3, 0.8,1.2,1.7,1.3, 0.7,0.5,0.8,0.6, 0.4,0.6,0.3,0.5, 0.7,0.4,0.5,0.3, 0.6,0.9,0.5,3.8, 1.1,0.6,0.4,0.5, 0.3,0.6,0.5,0.4, 0.6,0.3,0.5,0.4, 0.4,0.7,0.3,0.5]
];

// member colours (P21..P30 reuse the P1..P10 ramp)
const RAMP = ['#1c30c4','#1a4cb8','#1a6cb0','#1a90bc','#14a4ac','#10a284','#10a064','#12a848','#1cb02c','#10c010',
              '#bab212','#c4a212','#c49012','#c88012','#c07014','#b86014','#b05014','#a84020','#a03020','#8c1c1c'];
const MEMBER_COLORS = RAMP.concat(RAMP.slice(0, 10));
const CONTROL_COLOR = '#0a0aff';
const MEAN_COLOR = '#ffffff';
const OPER_COLOR = '#14dc14';

const pts = arr => arr.map((v, i) => ({ x: (i + 1) * STEP, y: v }));

const datasets = [];
function addLine(data, color, width, axis, order) {
  datasets.push({ data: pts(data), borderColor: color, borderWidth: width, yAxisID: axis, order: order,
                  pointRadius: 0, tension: 0, fill: false });
}
addLine(TEMP_OPER, OPER_COLOR, 3, 'y', 1);
addLine(PREC_OPER, OPER_COLOR, 3, 'y1', 1);
addLine(TEMP_MEAN, MEAN_COLOR, 3, 'y', 2);
addLine(PREC_MEAN, MEAN_COLOR, 3, 'y1', 2);
addLine(TEMP_CONTROL, CONTROL_COLOR, 3, 'y', 3);
addLine(PREC_CONTROL, CONTROL_COLOR, 3, 'y1', 3);
TEMP_PERT.forEach((d, k) => addLine(d, MEMBER_COLORS[k], 1, 'y', 10));
PREC_PERT.forEach((d, k) => addLine(d, MEMBER_COLORS[k], 1, 'y1', 10));

// white frame, zero line and inward minor ticks on the precip axis
const frame = {
  id: 'frame',
  beforeDatasetsDraw(chart) {
    const { ctx, chartArea: a, scales } = chart;
    const y0 = Math.round(scales.y.getPixelForValue(0)) + 0.5;
    ctx.save();
    ctx.strokeStyle = '#fff';
    ctx.lineWidth = 1.5;
    ctx.beginPath(); ctx.moveTo(a.left, y0); ctx.lineTo(a.right, y0); ctx.stroke();
    ctx.restore();
  },
  afterDraw(chart) {
    const { ctx, chartArea: a, scales } = chart;
    ctx.save();
    ctx.strokeStyle = '#fff';
    ctx.lineWidth = 1;
    ctx.strokeRect(a.left + 0.5, a.top + 0.5, a.right - a.left - 1, a.bottom - a.top - 1);
    ctx.beginPath();
    scales.y1.ticks.forEach(t => {
      const py = Math.round(scales.y1.getPixelForValue(t.value)) + 0.5;
      ctx.moveTo(a.right - 5, py); ctx.lineTo(a.right, py);
    });
    ctx.stroke();
    ctx.restore();
  }
};

Chart.defaults.font.family = '"DejaVu Sans", sans-serif';
Chart.defaults.color = '#fff';
const GRID = '#444';
const tickFont = { size: 10.5 };

new Chart(document.getElementById('chart'), {
  type: 'line',
  data: { datasets },
  plugins: [frame],
  options: {
    responsive: false,
    animation: false,
    layout: { padding: { top: 30, left: 0, right: 0, bottom: 0 } },
    plugins: { legend: { display: false }, tooltip: { enabled: false } },
    scales: {
      x: {
        type: 'linear', min: 0, max: 384,
        afterFit: s => { s.height = 60; },
        grid: { color: GRID, drawTicks: false },
        border: { display: false, dash: [3, 3] },
        ticks: { stepSize: 24, autoSkip: false, maxRotation: 0, padding: 6, font: tickFont,
                 callback: v => (v % 48 === 0 ? X_TICK_LABELS[v / 48] : '') }
      },
      y: {
        position: 'left', min: -20, max: 25,
        afterFit: s => { s.width = 163; },
        grid: { color: c => (c.tick && c.tick.value === 0 ? 'rgba(0,0,0,0)' : GRID), drawTicks: false },
        border: { display: false, dash: [3, 3] },
        ticks: { stepSize: 5, padding: 9, font: tickFont }
      },
      y1: {
        position: 'right', min: 0, max: 40,
        afterFit: s => { s.width = 40; },
        grid: { display: false, drawTicks: false },
        border: { display: false },
        ticks: { stepSize: 1, autoSkip: false, padding: 8, font: tickFont,
                 callback: v => (v % 10 === 0 ? v : '') }
      }
    }
  }
});

// legend: two columns, P1..P30 then Control / Ens. mean / Oper
const legendItems = MEMBER_COLORS.map((c, k) => ({ name: 'P' + (k + 1), color: c }))
  .concat([{ name: 'Control', color: CONTROL_COLOR }, { name: 'Ens. mean', color: MEAN_COLOR }, { name: 'Oper', color: OPER_COLOR }]);
const legend = document.getElementById('legend');
legendItems.forEach((it, k) => {
  const row = Math.floor(k / 2), col = k % 2;
  const textX = col === 0 ? 10 : 66;
  const lineW = col === 0 ? 10 : 11;
  const el = document.createElement('div');
  el.className = 'leg';
  el.style.left = textX + 'px';
  el.style.top = (40 + row * 15 - 6) + 'px';
  el.textContent = it.name;
  const sw = document.createElement('i');
  sw.style.left = -lineW + 'px';
  sw.style.width = lineW + 'px';
  sw.style.background = it.color;
  el.appendChild(sw);
  legend.appendChild(el);
});
</script>
</body>
</html>
